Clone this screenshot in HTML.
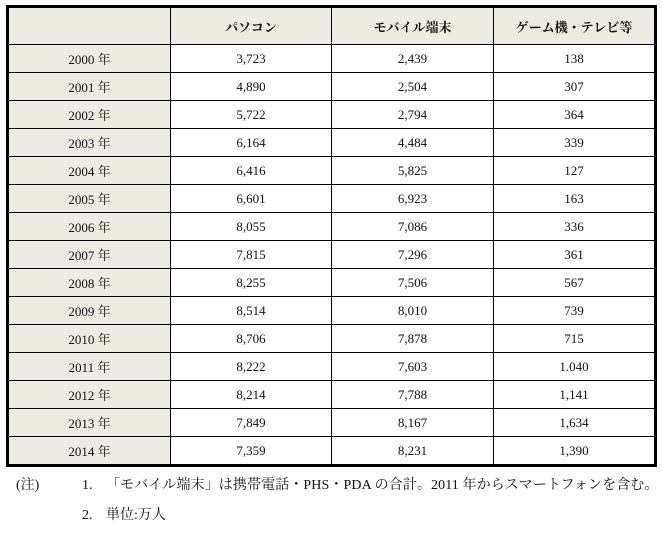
<!DOCTYPE html>
<html><head><meta charset="utf-8"><style>
body{margin:0;width:662px;height:535px;background:#fff;font-family:"Liberation Serif","Noto Serif CJK JP","Noto Serif CJK SC",serif;color:#111;position:relative;overflow:hidden}
table{position:absolute;left:6px;top:5px;width:651px;border-collapse:collapse;border:3px solid #000;font-size:13px}
td,th{border:1px solid #000;text-align:center;padding:0;height:27px}
th{height:36px;font-weight:bold;background:#eeebe3}
td.y{background:#eeebe3;width:161px}
.n{position:absolute;font-size:14px;line-height:20px;height:20px;white-space:nowrap}
</style></head><body>
<table>
<thead><tr><th></th><th style="width:160px">パソコン</th><th style="width:161px">モバイル端末</th><th>ゲーム機・テレビ等</th></tr></thead>
<tbody id="tb"></tbody></table>
<div class="n" style="left:16px;top:476px">(注)</div>
<div class="n" style="left:82px;top:476px">1.</div>
<div class="n" style="left:106px;top:476px;letter-spacing:0.1px">「モバイル端末」は携帯電話・PHS・PDA の合計。2011 年からスマートフォンを含む。</div>
<div class="n" style="left:82px;top:506px">2.</div>
<div class="n" style="left:106px;top:506px">単位:万人</div>
<script>
const years=["2000 年","2001 年","2002 年","2003 年","2004 年","2005 年","2006 年","2007 年","2008 年","2009 年","2010 年","2011 年","2012 年","2013 年","2014 年"];
const pc=["3,723","4,890","5,722","6,164","6,416","6,601","8,055","7,815","8,255","8,514","8,706","8,222","8,214","7,849","7,359"];
const mobile=["2,439","2,504","2,794","4,484","5,825","6,923","7,086","7,296","7,506","8,010","7,878","7,603","7,788","8,167","8,231"];
const game=["138","307","364","339","127","163","336","361","567","739","715","1.040","1,141","1,634","1,390"];
const tb=document.getElementById('tb');
years.forEach((y,i)=>{
const tr=document.createElement('tr');


[[y,'y','year-cell'],[pc[i],'','pc-cell'],[mobile[i],'','mobile-cell'],[game[i],'','game-cell']].forEach(c=>{
const td=document.createElement('td');
td.textContent=c[0];if(c[1])td.className=c[1];


tr.appendChild(td);});
tb.appendChild(tr);});
</script>
</body></html>
